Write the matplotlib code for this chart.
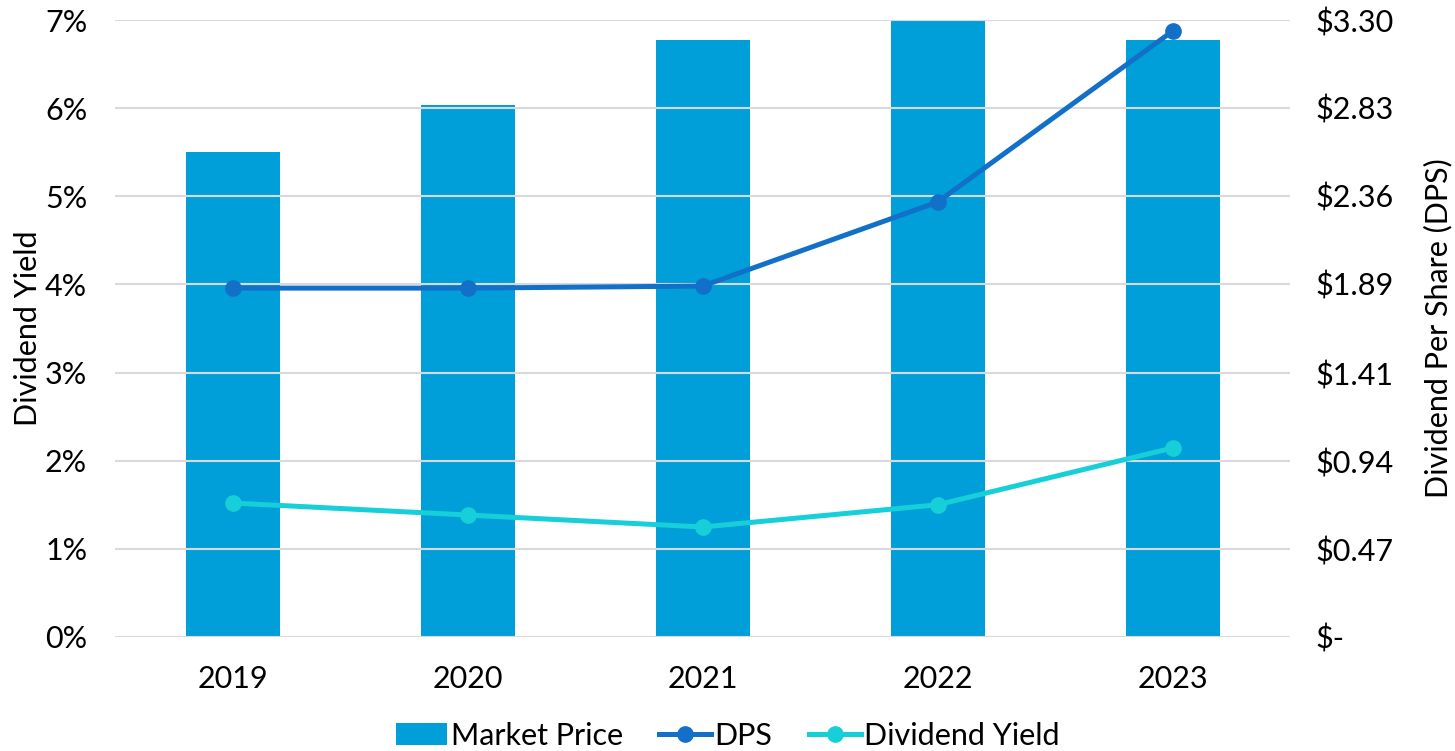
import numpy as np
import matplotlib.pyplot as plt
from matplotlib.ticker import FuncFormatter

years = ['2019', '2020', '2021', '2022', '2023']
market_price = [5.50, 6.04, 6.77, 7.00, 6.77]   # bar heights (hidden axis)
dps = [1.866, 1.866, 1.877, 2.326, 3.24]
div_yield = [1.52, 1.384, 1.248, 1.50, 2.144]   # percent
dps_ticks = [0, 0.47, 0.94, 1.41, 1.89, 2.36, 2.83, 3.30]

plt.rcParams['font.family'] = ['Lato', 'DejaVu Sans']

bar_color = '#009FD9'
dps_color = '#1270C8'
yield_color = '#16CFD8'
grid_color = '#D9D9D9'
fs = 22

fig = plt.figure(figsize=(14.55, 7.51), dpi=100)
ax = fig.add_axes([115/1455, 1 - 637/751, 1175/1455, 617/751])
x = np.arange(len(years))

# bars on a hidden axis
axb = ax.twinx()
axb.set_ylim(0, 7)
axb.axis('off')
bars = axb.bar(x, market_price, width=0.4, color=bar_color, label='Market Price', zorder=2)

ax.set_zorder(axb.get_zorder() + 1)
ax.patch.set_visible(False)

ax.set_xlim(-0.5, 4.5)
ax.set_ylim(0, 7)
ax.set_yticks(range(8))
ax.yaxis.set_major_formatter(FuncFormatter(lambda v, p: '%d%%' % v))
ax.grid(axis='y', color=grid_color, linewidth=1.5)
ax.set_axisbelow(True)
for s in ax.spines.values():
    s.set_visible(False)
ax.tick_params(length=0, labelsize=fs)
ax.tick_params(axis='x', pad=20)
ax.tick_params(axis='y', pad=20)
ax.set_xticks(x)
ax.set_xticklabels(years)
ax.set_ylabel('Dividend Yield', fontsize=fs, labelpad=2)

l2, = ax.plot(x, div_yield, color=yield_color, linewidth=3.6, marker='o', markersize=11, label='Dividend Yield', zorder=4)

ax2 = ax.twinx()
ax2.set_ylim(0, 3.30)
ax2.set_yticks(dps_ticks)
ax2.set_yticklabels(['$-'] + ['$%.2f' % v for v in dps_ticks[1:]])
for s in ax2.spines.values():
    s.set_visible(False)
ax2.tick_params(length=0, labelsize=fs, pad=18)
ax2.set_ylabel('Dividend Per Share (DPS)', fontsize=fs, labelpad=22)
l1, = ax2.plot(x, dps, color=dps_color, linewidth=3.6, marker='o', markersize=11, label='DPS', zorder=4)

fig.legend([bars, l1, l2], ['Market Price', 'DPS', 'Dividend Yield'], loc='lower center',
           bbox_to_anchor=(0.5, -0.035), ncol=3, frameon=False, fontsize=fs,
           handlelength=1.7, handletextpad=0.1, columnspacing=1.2)

fig.savefig('out.png', dpi=100)
